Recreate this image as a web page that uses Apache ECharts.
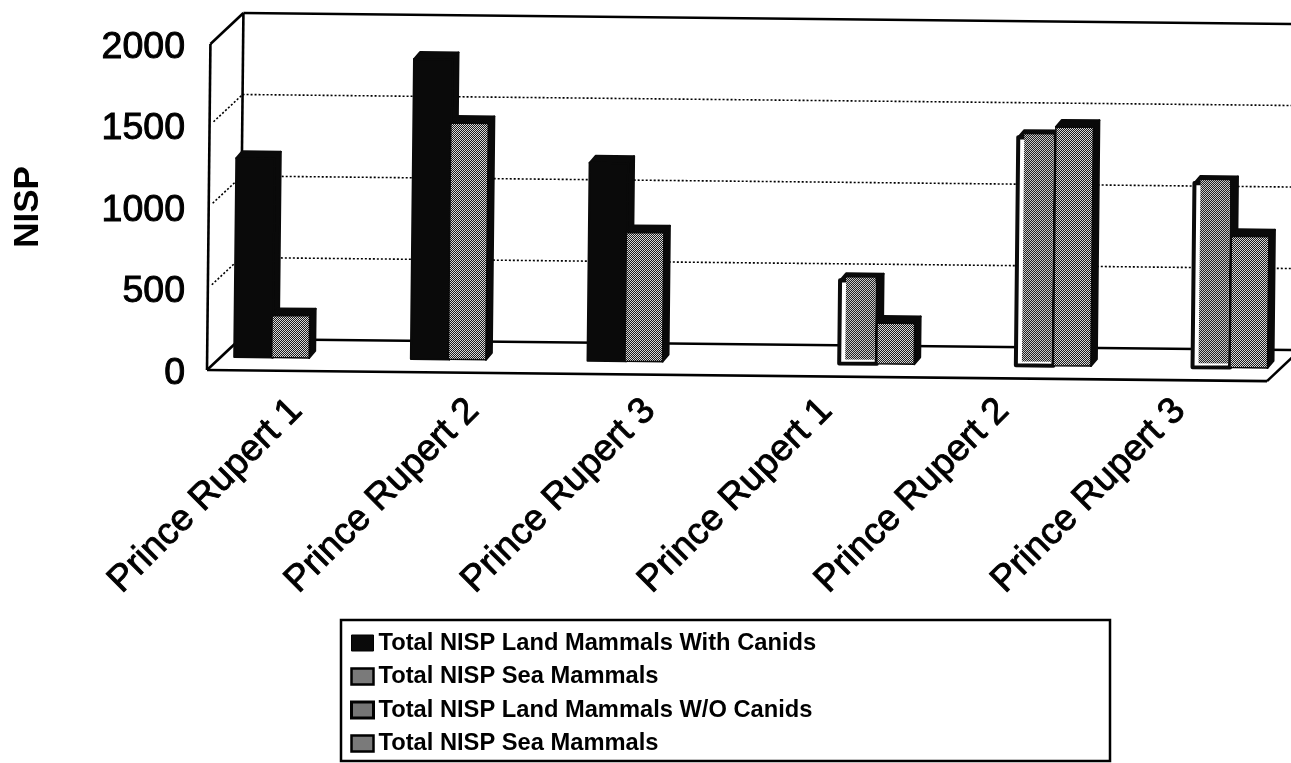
<!DOCTYPE html>
<html><head><meta charset="utf-8">
<style>html,body{margin:0;padding:0;background:#fff}#c{width:1291px;height:763px}</style>
<script src="https://cdn.jsdelivr.net/npm/echarts@6/dist/echarts.min.js"></script>
</head><body><div id="c"></div>
<script>
const categories = ['Prince Rupert 1','Prince Rupert 2','Prince Rupert 3','Prince Rupert 1','Prince Rupert 2','Prince Rupert 3'];
const yTicks = [0,500,1000,1500,2000];
const landWithCanids = [1220,1840,1215,null,null,null];
const seaMammalsA = [258,1450,790,null,null,null];
const landWithoutCanids = [null,null,null,510,1400,1130];
const seaMammalsB = [null,null,null,250,1465,805];
const seriesNames = ['Total NISP Land Mammals With Canids','Total NISP Sea Mammals','Total NISP Land Mammals W/O Canids','Total NISP Sea Mammals '];

function checker(a,b){
  const c=document.createElement('canvas');c.width=2;c.height=2;
  const x=c.getContext('2d');x.fillStyle=a;x.fillRect(0,0,2,2);x.fillStyle=b;x.fillRect(0,0,1,1);x.fillRect(1,1,1,1);
  return {image:c,repeat:'repeat'};
}
const seaFill=checker('#1c1c1c','#d8d8d8');
const dryFill=checker('#222222','#c8c8c8');

const SLOPE=0.0105, WALL_DX=33, WALL_DY=-31, BAR_DEPTH=0.42, SLOT=37.5, DX=6, DY=-7;
function place(p,sys,depth){ // depth 0 = front plane, 1 = back wall; slight page skew
  const bottom=sys.y+sys.height;
  return [p[0]+depth*WALL_DX+SLOPE*(bottom-p[1])-1, p[1]+SLOPE*(p[0]-sys.x)+depth*WALL_DY];
}
function renderFrame(params,api){
  const s=params.coordSys, v=api.value(1);
  const y=api.coord([0,v])[1], L=s.x, R=s.x+s.width;
  const solid=(v===0||v===2000);
  const st={stroke:'#000',lineWidth:solid?2.6:1.6,lineDash:solid?null:[2,2],fill:null};
  const line=(a,b)=>({type:'polyline',shape:{points:[a,b]},style:st,silent:true});
  const ch=[
    line(place([L,y],s,1),place([R+60,y],s,1)),
    line(place([L,y],s,solid?0:0.12),place([L,y],s,1))
  ];
  if(v===0){
    ch.push(line(place([L,y],s,0),place([R,y],s,0)));
    ch.push(line(place([R,y],s,0),place([R,y],s,1)));
    const sSolid={stroke:'#000',lineWidth:2.6,fill:null};
    const top=api.coord([0,2000])[1];
    ch.push({type:'polyline',shape:{points:[place([L,y],s,0),place([L,top],s,0)]},style:sSolid,silent:true});
    ch.push({type:'polyline',shape:{points:[place([L,y],s,1),place([L,top],s,1)]},style:sSolid,silent:true});
  }
  return {type:'group',children:ch};
}
function barRenderer(slot,kind){
  return function(params,api){
    const s=params.coordSys, cat=api.value(0), v=api.value(1);
    const c=api.coord([cat,v])[0], yTop=api.coord([cat,v])[1], yBase=api.coord([cat,0])[1];
    const x0=c+slot*SLOT, x1=x0+SLOT+ (kind==='black'?1:0);
    const a=place([x0,yBase],s,BAR_DEPTH), b=place([x1,yBase],s,BAR_DEPTH),
          t0=place([x0,yTop],s,BAR_DEPTH), t1=place([x1,yTop],s,BAR_DEPTH);
    const add=(p)=>[p[0]+DX,p[1]+DY];
    const blk={fill:'#0a0a0a',stroke:'#0a0a0a',lineWidth:2,lineJoin:'round'};
    const ch=[
      {type:'polygon',shape:{points:[t0,t1,add(t1),add(t0)]},style:blk,silent:true},
      {type:'polygon',shape:{points:[t1,b,add(b),add(t1)]},style:blk,silent:true}
    ];
    if(kind==='black'){
      ch.push({type:'polygon',shape:{points:[t0,t1,b,a]},style:blk,silent:true});
    }else if(kind==='sea'){
      ch.push({type:'polygon',shape:{points:[t0,t1,b,a]},style:{fill:seaFill,stroke:'#0a0a0a',lineWidth:1.5},silent:true});
    }else{
      ch.push({type:'polygon',shape:{points:[t0,t1,b,a]},style:{fill:'#fff',stroke:'#0a0a0a',lineWidth:4,lineJoin:'round'},silent:true});
      const iL=place([x0+6,yBase-4],s,BAR_DEPTH), iR=place([x1-2,yBase-4],s,BAR_DEPTH),
            jL=place([x0+6,yTop-3],s,BAR_DEPTH), jR=place([x1-2,yTop-3],s,BAR_DEPTH);
      ch.push({type:'polygon',shape:{points:[jL,jR,iR,iL]},style:{fill:dryFill},silent:true});
    }
    return {type:'group',children:ch};
  };
}
const pairs=a=>a.map((v,i)=>v==null?null:[i,v]).filter(Boolean);
const barSeries=(i,vals,slot,kind,color)=>({
  type:'custom',name:seriesNames[i],renderItem:barRenderer(slot,kind),
  data:pairs(vals),encode:{x:0,y:1},itemStyle:{color:color},z:3,silent:true,clip:false
});
const FONT='"Liberation Sans",Arial,sans-serif';
const chart=echarts.init(document.getElementById('c'),null,{renderer:'canvas'});
chart.setOption({
  animation:false,backgroundColor:'#fff',
  grid:{left:208,top:44,width:1060,height:326,outerBoundsMode:'none',containLabel:false},
  xAxis:{type:'category',data:categories,axisLine:{show:false},axisTick:{show:false},
    axisLabel:{rotate:45,interval:0,margin:35,fontFamily:FONT,fontSize:37,color:'#000',textBorderColor:'#000',textBorderWidth:0.9}},
  yAxis:{type:'value',min:0,max:2000,interval:500,axisLine:{show:false},axisTick:{show:false},splitLine:{show:false},
    axisLabel:{margin:23,formatter:v=>'{n|'+v+'}',
      rich:{n:{fontFamily:FONT,fontSize:37.5,color:'#000',textBorderColor:'#000',textBorderWidth:1,padding:[7,0,0,0]}}},
    name:'NISP',nameLocation:'middle',nameGap:162,nameTextStyle:{fontFamily:FONT,fontSize:35,fontWeight:'bold',color:'#000'}},
  legend:{orient:'vertical',left:350,top:631,padding:0,itemGap:9.5,itemWidth:22,itemHeight:16,icon:'rect',selectedMode:false,
    textStyle:{fontFamily:FONT,fontSize:23.7,fontWeight:'bold',color:'#000'},
    data:[
      {name:seriesNames[0],itemStyle:{color:'#0a0a0a',borderColor:'#000',borderWidth:1}},
      {name:seriesNames[1],itemStyle:{color:seaFill,borderColor:'#000',borderWidth:2.5}},
      {name:seriesNames[2],itemStyle:{color:dryFill,borderColor:'#000',borderWidth:3}},
      {name:seriesNames[3],itemStyle:{color:seaFill,borderColor:'#000',borderWidth:2.5}}
    ]},
  graphic:[{type:'rect',z:-1,shape:{x:341,y:620,width:769,height:141},style:{fill:'#fff',stroke:'#000',lineWidth:2.5}}],
  series:[
    {type:'custom',name:'frame',renderItem:renderFrame,data:yTicks.map(t=>[0,t]),encode:{x:0,y:1},z:1,silent:true,clip:false},
    barSeries(0,landWithCanids,-2,'black','#0a0a0a'),
    barSeries(1,seaMammalsA,-1,'sea',seaFill),
    barSeries(2,landWithoutCanids,0,'dry',dryFill),
    barSeries(3,seaMammalsB,1,'sea',seaFill)
  ]
});
</script></body></html>
